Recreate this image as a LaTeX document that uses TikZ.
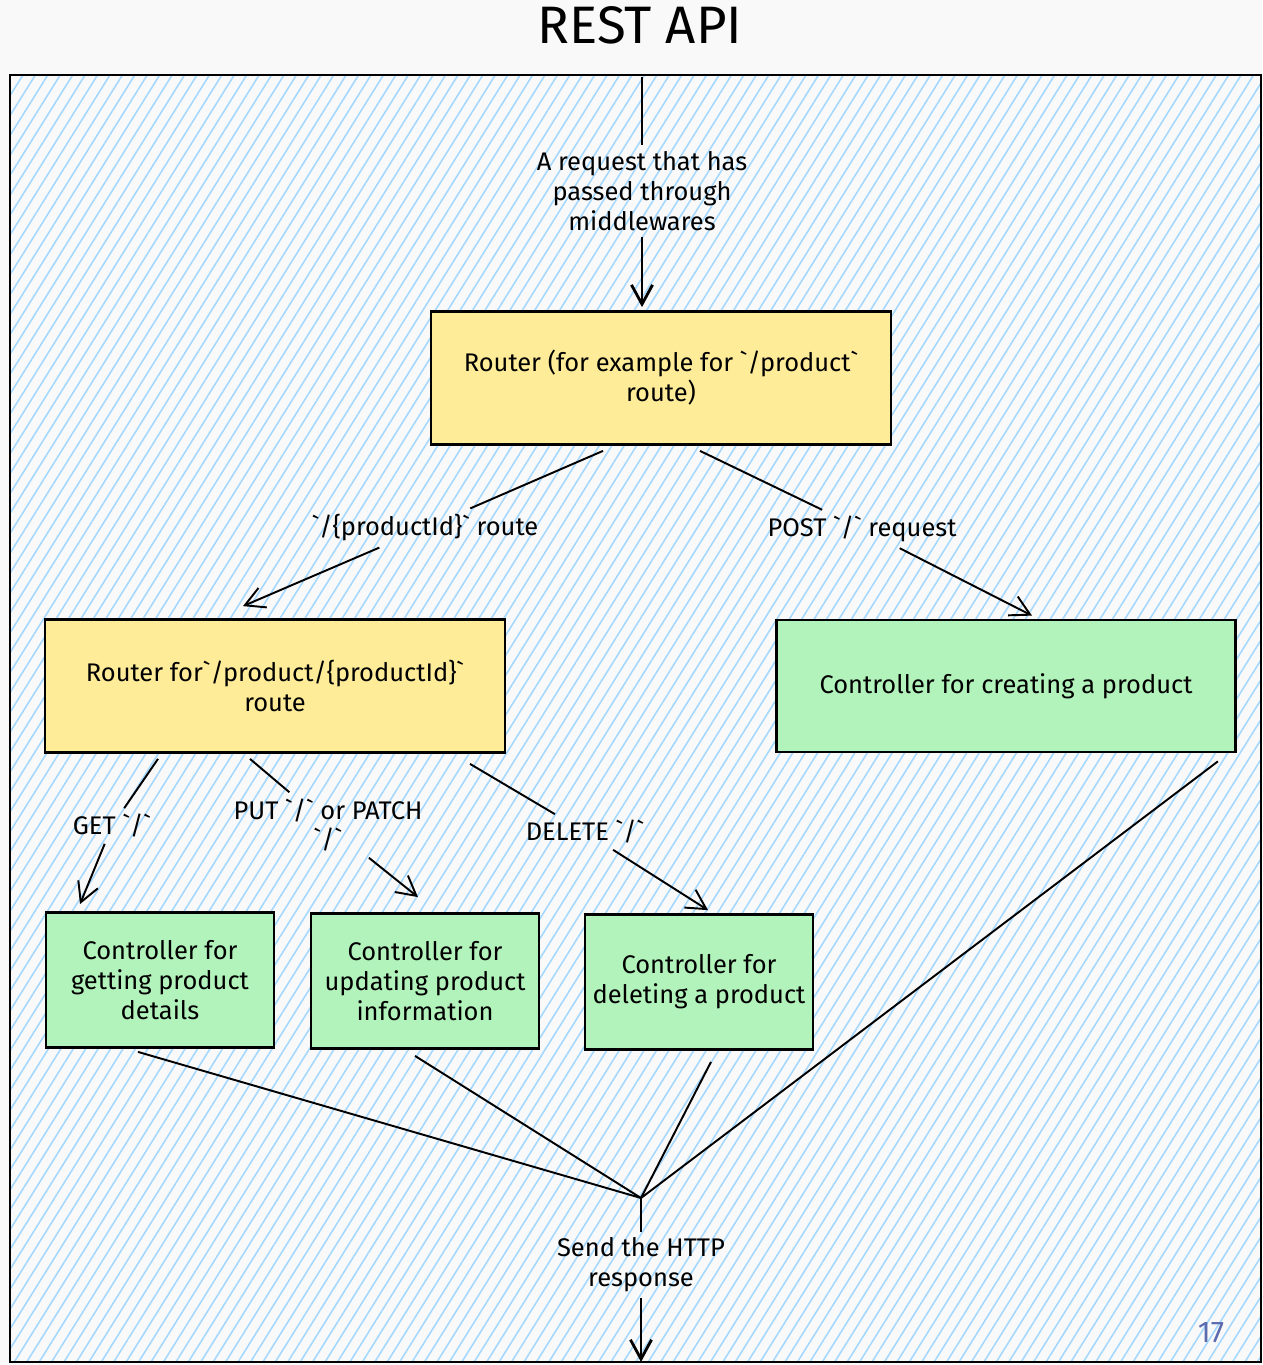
\documentclass[tikz,border=0pt]{standalone}
\usepackage{fontspec}
\setmainfont{Fira Sans}
\usetikzlibrary{arrows.meta,patterns.meta}
\definecolor{routeryellow}{HTML}{FFEC99}
\definecolor{ctrlgreen}{HTML}{B2F2BB}
\definecolor{hatchblue}{HTML}{A5D8FF}
\definecolor{paper}{HTML}{F9F9F9}
\definecolor{pagenum}{HTML}{5C6BAF}
\newcommand{\bq}{\textasciigrave}
\begin{document}
\begin{tikzpicture}[x=0.02cm, y=-0.02cm, line width=1.1pt,
    >={Straight Barb[length=11pt,width=12pt]},
    lbl/.style={font=\fontsize{14.5}{17}\selectfont, align=center, inner sep=3pt},
    router/.style={lbl, draw, line width=1.6pt, fill=routeryellow, minimum width=9.2cm, minimum height=2.66cm},
    ctrl/.style={lbl, draw, line width=1.6pt, fill=ctrlgreen, minimum width=4.56cm, minimum height=2.7cm},
    thick arrow/.style={line width=1.6pt}]
  \useasboundingbox[fill=paper] (0,0) rectangle (1262,1365);
  \draw[line width=1.6pt, pattern={Lines[angle=58,distance=6pt,line width=0.9pt]}, pattern color=hatchblue]
    (10,75) rectangle (1261,1362);
  \node (title) at (640,25) [font=\fontsize{30}{34}\selectfont] {REST API};
  \node (page) at (1211,1333) [font=\fontsize{17}{20}\selectfont, text=pagenum] {17};

  % boxes
  \node (r1) at (661,378) [router] {Router (for example for \bq/product\bq\\route)};
  \node (r2) at (275,686) [router] {Router for\bq/product/\{productId\}\bq\\route};
  \node (create) at (1006,686) [ctrl, minimum width=9.18cm, minimum height=2.64cm] {Controller for creating a product};
  \node (get) at (160,980) [ctrl] {Controller for\\getting product\\details};
  \node (upd) at (425,981) [ctrl] {Controller for\\updating product\\information};
  \node (del) at (699,982) [ctrl] {Controller for\\deleting a product};

  % labels on the arrows
  \node (lreq) at (642,191) [lbl] {A request that has\\passed through\\middlewares};
  \node (lpid) at (425,528) [lbl] {\bq/\{productId\}\bq{} route};
  \node (lpost) at (862,529) [lbl] {POST \bq/\bq{} request};
  \node (lget) at (112,826) [lbl] {GET \bq/\bq};
  \node (lput) at (328,825) [lbl] {PUT \bq/\bq{} or PATCH\\\bq/\bq};
  \node (ldel) at (585,832) [lbl] {DELETE \bq/\bq};
  \node (lresp) at (641,1265) [lbl] {Send the HTTP\\response};

  \coordinate (in) at (642,77);
  \coordinate (join) at (641,1198);
  \coordinate (out) at (641,1362);

  \draw[thick arrow] (in) -- (lreq);
  \draw[thick arrow, ->] (lreq) -- ([shift={(-19,-3)}]r1.north);
  \draw ([shift={(-58,5)}]r1.south) -- (lpid);
  \draw[->] (lpid) -- ([shift={(-32,-12)}]r2.north);
  \draw ([shift={(39,5)}]r1.south) -- (lpost);
  \draw[->] (lpost) -- ([shift={(26,-3)}]create.north);
  \draw ([shift={(-117,5)}]r2.south) -- (lget);
  \draw[->] (lget) -- ([shift={(-80,-7)}]get.north);
  \draw ([shift={(-25,5)}]r2.south) -- (lput);
  \draw[->] (lput) -- ([shift={(-7,-15)}]upd.north);
  \draw ([shift={(195,10)}]r2.south) -- (ldel);
  \draw[->] (ldel) -- ([shift={(9,-3)}]del.north);

  \foreach \src/\dx/\dy in {get.south/-22/3, upd.south/-10/6, del.south/12/11, create.south east/-19/8}
    \draw ([shift={(\dx,\dy)}]\src) -- (join);
  \draw[thick arrow] (join) -- (lresp);
  \draw[thick arrow, ->] (lresp) -- (out);
\end{tikzpicture}
\end{document}
